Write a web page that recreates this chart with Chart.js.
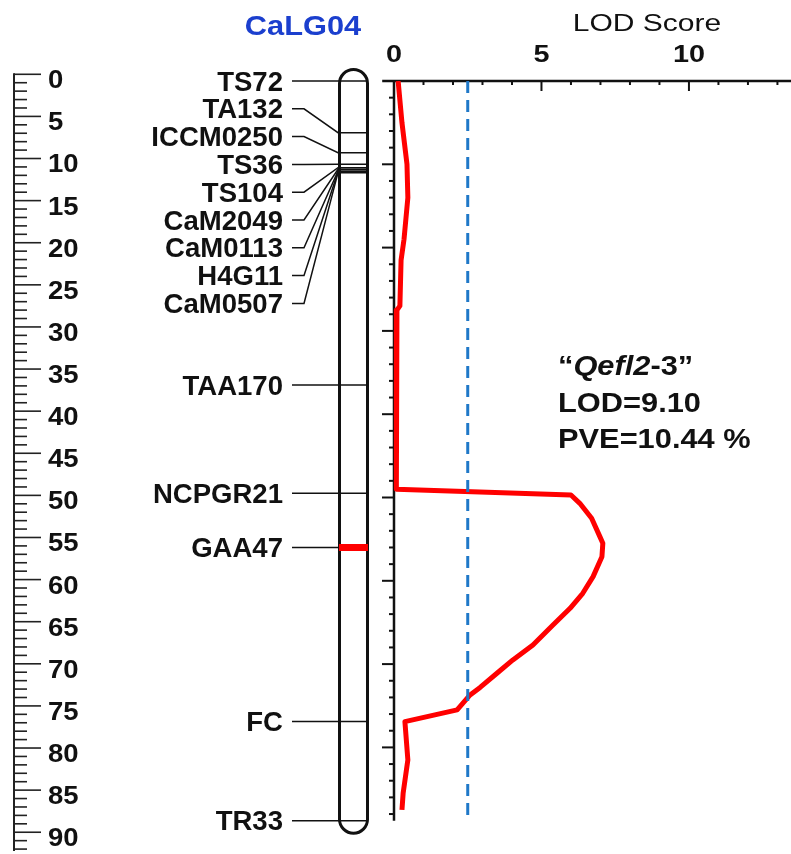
<!DOCTYPE html>
<html>
<head>
<meta charset="utf-8">
<script src="https://cdn.jsdelivr.net/npm/chart.js@4.4.0/dist/chart.umd.min.js"></script>
<style>
  body { margin: 0; background: #fff; }
  #wrap { width: 791px; height: 854px; position: relative; }
</style>
</head>
<body>
<div id="wrap"><canvas id="qtl"></canvas></div>
<script>
// linkage group and its markers (cM)
const groupName = 'CaLG04';
const markerNames = ['TS72', 'TA132', 'ICCM0250', 'TS36', 'TS104', 'CaM2049', 'CaM0113', 'H4G11', 'CaM0507',
                     'TAA170', 'NCPGR21', 'GAA47', 'FC', 'TR33'];
const markerPos = [0, 6.2, 8.6, 10.0, 10.4, 10.6, 10.8, 10.9, 11.0, 36.5, 49.5, 56.0, 76.9, 88.8];
const qtlMarker = 'GAA47';

// LOD profile along the group
const lodPos   = [0, 5, 10, 14, 19, 21.5, 27, 27.5, 49, 49.7, 50.7, 52.5, 54.7, 55.5, 57.1, 59.5, 61.5,
                  63.3, 65.3, 67.7, 69.5, 71.1, 72.8, 73.7, 75.5, 76.9, 81.5, 85.5, 87.5];
const lodScore = [0.14, 0.27, 0.44, 0.47, 0.34, 0.24, 0.2, 0.1, 0.08, 6.0, 6.3, 6.7, 6.98, 7.08, 7.05, 6.75, 6.4,
                  5.97, 5.39, 4.71, 4.03, 3.49, 2.92, 2.58, 2.14, 0.37, 0.47, 0.31, 0.27];
const lodThreshold = 2.5;

const lodTickLabels = [0, 5, 10];
const rulerLabels = [0, 5, 10, 15, 20, 25, 30, 35, 40, 45, 50, 55, 60, 65, 70, 75, 80, 85, 90];
const rulerEnd = 92;

const qtlName = 'Qefl2';
const qtlSuffix = '-3';
const qtlLod = '9.10';
const qtlPve = '10.44';

const FONT = '"Liberation Sans", Arial, sans-serif';

function txt(ctx, s, x, y, size, o) {
  o = o || {};
  ctx.save();
  ctx.font = (o.italic ? 'italic ' : '') + (o.bold === false ? '' : 'bold ') + size + 'px ' + FONT;
  ctx.fillStyle = o.color || '#111';
  ctx.textAlign = o.align || 'left';
  ctx.textBaseline = 'alphabetic';
  ctx.translate(x, y + size * 0.358);
  ctx.scale(o.sx || 1, 1);
  ctx.fillText(s, 0, 0);
  const w = ctx.measureText(s).width * (o.sx || 1);
  ctx.restore();
  return w;
}

function line(ctx, pts, w, color) {
  ctx.beginPath();
  ctx.moveTo(pts[0][0], pts[0][1]);
  for (let i = 1; i < pts.length; i++) ctx.lineTo(pts[i][0], pts[i][1]);
  ctx.lineWidth = w;
  ctx.strokeStyle = color || '#111';
  ctx.stroke();
}

// spread crowded labels, centred on their markers, not above the top
function spreadLabels(ys, gap, top) {
  const groups = [];
  const start = g => Math.max(top, g.sum / g.idx.length - (g.idx.length - 1) * gap / 2);
  ys.forEach((y, i) => {
    groups.push({ idx: [i], sum: y });
    while (groups.length > 1) {
      const g = groups[groups.length - 1], p = groups[groups.length - 2];
      if (start(p) + p.idx.length * gap > start(g)) {
        p.idx = p.idx.concat(g.idx);
        p.sum += g.sum;
        groups.pop();
      } else break;
    }
  });
  const out = [];
  groups.forEach(g => { const s = start(g); g.idx.forEach((i, k) => { out[i] = s + k * gap; }); });
  return out;
}

const mapPlugin = {
  id: 'mapPlugin',
  beforeDatasetsDraw(chart) {
    const ctx = chart.ctx;
    const x = chart.scales.x, y = chart.scales.y, r = chart.scales.ruler;
    const area = chart.chartArea;
    ctx.save();
    ctx.lineCap = 'butt';

    // ruler on the far left
    const rx = 14;
    line(ctx, [[rx, r.getPixelForValue(0) - 1], [rx, r.getPixelForValue(rulerEnd) + 2]], 2, '#222');
    for (let v = 0; v <= rulerEnd; v++) {
      const py = r.getPixelForValue(v);
      line(ctx, [[rx, py], [v % 5 === 0 ? 41 : 27, py]], 1.6, '#222');
    }
    rulerLabels.forEach(v => txt(ctx, String(v), 48, r.getPixelForValue(v) + 5, 25, { sx: 1.1 }));

    // chromosome bar
    const cl = 338, cr = 369, lw = 3;
    const ct = y.getPixelForValue(markerPos[0]) - 13, cb = y.getPixelForValue(markerPos[markerPos.length - 1]) + 14;
    const rad = (cr - cl - lw) / 2;
    ctx.beginPath();
    ctx.moveTo(cl + lw / 2, ct + lw / 2 + rad);
    ctx.arc(cl + lw / 2 + rad, ct + lw / 2 + rad, rad, Math.PI, 0);
    ctx.lineTo(cr - lw / 2, cb - lw / 2 - rad);
    ctx.arc(cl + lw / 2 + rad, cb - lw / 2 - rad, rad, 0, Math.PI);
    ctx.closePath();
    ctx.lineWidth = lw;
    ctx.strokeStyle = '#111';
    ctx.stroke();

    // markers, leader lines and names
    const mys = markerPos.map(v => y.getPixelForValue(v));
    const lys = spreadLabels(mys, 27.8, area.top);
    markerNames.forEach((name, i) => {
      const my = mys[i], ly = lys[i];
      if (name === qtlMarker) {
        line(ctx, [[292, ly], [304, ly], [cl, my]], 1.5);
        line(ctx, [[cl + 1, my], [cr - 1, my]], 7, '#ff0000');
      } else {
        line(ctx, [[292, ly], [304, ly], [cl, my], [cr - 1, my]], 1.5);
      }
      txt(ctx, name, 283, ly, 27, { sx: 1.02, align: 'right' });
    });
    txt(ctx, groupName, 303, 25, 28, { align: 'center', sx: 1.1, color: '#1b3fce' });

    // LOD frame: top axis and left axis
    const x0 = x.getPixelForValue(0);
    line(ctx, [[area.left, area.top], [area.right, area.top]], 2.5);
    line(ctx, [[x0, area.top], [x0, area.bottom]], 2.5);
    for (let v = 1; v <= Math.floor(x.max); v++) {
      const px = x.getPixelForValue(v);
      line(ctx, [[px, area.top], [px, area.top + (v % 5 === 0 ? 10 : 4)]], 2);
    }
    for (let v = 2; v <= y.max; v += 2) {
      const py = y.getPixelForValue(v);
      line(ctx, [[x0, py], [x0 - (v % 10 === 0 ? 12 : 5), py]], 2);
    }
    lodTickLabels.forEach(v => txt(ctx, String(v), x.getPixelForValue(v), 53, 24, { align: 'center', sx: 1.2 }));
    txt(ctx, 'LOD Score', 647, 22, 24, { align: 'center', sx: 1.25, bold: false });

    // QTL note
    let ax = 558;
    ax += txt(ctx, '\u201c', ax, 365, 28, { sx: 1.1 });
    ax += txt(ctx, qtlName, ax, 365, 28, { sx: 1.1, italic: true });
    txt(ctx, qtlSuffix + '\u201d', ax, 365, 28, { sx: 1.1 });
    txt(ctx, 'LOD=' + qtlLod, 558, 401.7, 28, { sx: 1.1 });
    txt(ctx, 'PVE=' + qtlPve + ' %', 558, 438, 28, { sx: 1.1 });
    ctx.restore();
  }
};

new Chart(document.getElementById('qtl'), {
  type: 'scatter',
  data: {
    datasets: [{
      label: 'threshold',
      data: [{ x: lodThreshold, y: 0 }, { x: lodThreshold, y: markerPos[markerPos.length - 1] }],
      showLine: true,
      borderColor: '#1f78c8',
      borderWidth: 3,
      borderDash: [12, 7],
      pointRadius: 0
    }, {
      label: 'LOD',
      data: lodPos.map((p, i) => ({ x: lodScore[i], y: p })),
      showLine: true,
      borderColor: '#ff0000',
      borderWidth: 5,
      borderJoinStyle: 'round',
      pointRadius: 0
    }]
  },
  options: {
    responsive: true,
    maintainAspectRatio: false,
    animation: false,
    layout: { padding: { left: 382.2, top: 81, right: 0, bottom: 33.3 } },
    plugins: { legend: { display: false }, tooltip: { enabled: false } },
    scales: {
      x: { type: 'linear', min: -0.4, max: 13.46, display: false },
      y: { type: 'linear', min: 0, max: 88.8, reverse: true, display: false },
      ruler: { type: 'linear', axis: 'y', min: 0.796, max: 88.63, reverse: true, display: false }
    }
  },
  plugins: [mapPlugin]
});
</script>
</body>
</html>
